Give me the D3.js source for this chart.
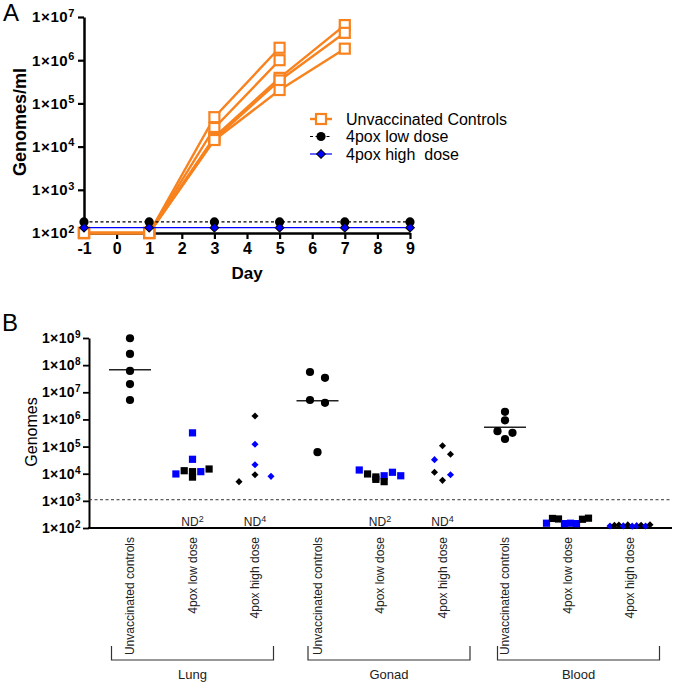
<!DOCTYPE html>
<html><head><meta charset="utf-8">
<script src="https://cdn.jsdelivr.net/npm/d3@7"></script>
<style>
body{margin:0;background:#fff;}
svg{font-family:"Liberation Sans",Arial,Helvetica,sans-serif;}
</style></head>
<body>
<script>
// ---------- Panel A data ----------
const daysA = [-1, 1, 3, 5, 7, 9];
const xTicksA = [-1, 0, 1, 2, 3, 4, 5, 6, 7, 8, 9];
const yTicksA = [1e2, 1e3, 1e4, 1e5, 1e6, 1e7];
// unvaccinated controls: one array per animal (values by day, until death)
const controlAnimals = [
  [100, 100, 4.8e4, 1.94e6],
  [100, 100, 2.7e4, 1.0e6],
  [100, 100, 1.67e4, 3.9e5, 6.5e6],
  [100, 100, 1.5e4, 3.4e5, 4.3e6],
  [100, 100, 1.42e4, 2.04e5, 1.85e6]
];
const lowDoseA  = [180, 180, 180, 180, 180, 180];
const highDoseA = [133, 133, 133, 133, 133, 133];
const legendA = ["Unvaccinated Controls", "4pox low dose", "4pox high  dose"];

// ---------- Panel B data ----------
const tissues = ["Lung", "Gonad", "Blood"];
const groupsB = ["Unvaccinated controls", "4pox low dose", "4pox high dose"];
const yTicksB = [1e2, 1e3, 1e4, 1e5, 1e6, 1e7, 1e8, 1e9];
const limitB = 1.1e3;
// values and experiment set (K = black, B = blue)
const lungControls = [9.8e8, 2.6e8, 6.1e7, 2.0e7, 5.2e6];
const lungLow      = [3.2e5, 3.4e4, 9.8e3, 1.29e4, 1.19e4, 1.19e4, 1.49e4, 7.5e3];
const lungLowSet   = ["B", "B", "B", "K", "K", "B", "K", "K"];
const lungHigh     = [1.34e6, 1.21e5, 2.15e4, 5.1e3, 9.2e3, 8.0e3];
const lungHighSet  = ["K", "B", "B", "K", "K", "B"];
const gonadControls = [5.6e7, 3.4e7, 5.2e6, 4.1e6, 6.2e4];
const gonadLow     = [1.37e4, 9.8e3, 7.6e3, 8.4e3, 1.13e4, 8.4e3, 6.2e3, 5.1e3];
const gonadLowSet  = ["B", "K", "K", "B", "B", "B", "K", "K"];
const gonadHigh    = [1.08e5, 3.3e4, 5.2e4, 1.13e4, 9.2e3, 5.7e3];
const gonadHighSet = ["K", "B", "K", "K", "B", "K"];
const bloodControls = [1.9e6, 9.3e5, 3.7e5, 3.2e5, 1.9e5];
const bloodLow     = [150, 225, 215, 145, 150, 145, 210, 230];
const bloodLowSet  = ["B", "K", "K", "B", "B", "B", "K", "K"];
const bloodHigh    = [118, 125, 128, 120, 130, 117, 122, 126, 119, 132];
const bloodHighSet = ["B", "K", "K", "B", "K", "B", "B", "K", "B", "K"];
const controlMedians = [6.8e7, 4.9e6, 5.2e5];
const ndLabels = [["", "2", "4"], ["", "2", "4"], ["", "", ""]];

// ---------- drawing ----------
const W = 675, H = 683;
const ORANGE = "#f7821e", BLUE = "#0000ff";
const svg = d3.select("body").append("svg").attr("width", W).attr("height", H);

function supLabels(g, size) {
  g.selectAll(".tick text").each(function (d) {
    const t = d3.select(this);
    t.text(null);
    t.append("tspan").text("1×10");
    t.append("tspan").attr("dy", "-0.5em").attr("font-size", size).text(Math.round(Math.log10(d)));
  });
}
// diamond = square turned by 45 degrees
const diamondPath = s => d3.symbol().type(d3.symbolSquare).size(s * s)();

// ===== Panel A =====
const xA = d3.scaleLinear().domain([-1, 9]).range([84, 410]);
const yA = d3.scaleLog().domain([1e2, 1e7]).range([233, 17]);

svg.append("text").attr("x", 3).attr("y", 21).attr("font-size", 24).text("A");

const gyA = svg.append("g").attr("transform", "translate(84,0)")
  .call(d3.axisLeft(yA).tickValues(yTicksA).tickSize(6).tickSizeOuter(0).tickPadding(3).tickFormat(d => d));
gyA.select(".domain").attr("stroke-width", 2.5).attr("stroke", "#000");
gyA.selectAll(".tick line").attr("stroke-width", 2.2);
gyA.selectAll(".tick text").attr("font-size", 15).attr("font-weight", "bold").attr("fill", "#000").attr("letter-spacing", 0.6);
supLabels(gyA, 11);

const gxA = svg.append("g").attr("transform", "translate(0,233)")
  .call(d3.axisBottom(xA).tickValues(xTicksA).tickSize(6).tickSizeOuter(0).tickPadding(4).tickFormat(d3.format("d")));
gxA.select(".domain").attr("stroke-width", 2.5).attr("stroke", "#000");
gxA.selectAll(".tick line").attr("stroke-width", 2.2);
gxA.selectAll(".tick text").attr("font-size", 16).attr("font-weight", "bold").attr("fill", "#000").text(d => d < 0 ? "-" + Math.abs(d) : d);

svg.append("text").attr("transform", "translate(26,122) rotate(-90)").attr("text-anchor", "middle")
  .attr("font-size", 18).attr("font-weight", "bold").text("Genomes/ml");
svg.append("text").attr("x", 247).attr("y", 279).attr("text-anchor", "middle")
  .attr("font-size", 17).attr("font-weight", "bold").text("Day");

const lineA = d3.line().x((d, i) => xA(daysA[i])).y(d => yA(d));

// controls
controlAnimals.forEach(a => {
  svg.append("path").attr("d", lineA(a)).attr("fill", "none").attr("stroke", ORANGE).attr("stroke-width", 2.4);
});
controlAnimals.forEach(a => {
  svg.selectAll(null).data(a).enter().append("rect")
    .attr("x", (d, i) => xA(daysA[i]) - 5).attr("y", d => yA(d) - 5)
    .attr("width", 10).attr("height", 10).attr("fill", "#fff").attr("stroke", ORANGE).attr("stroke-width", 2.2);
});
// low dose
svg.append("path").attr("d", lineA(lowDoseA)).attr("fill", "none").attr("stroke", "#000").attr("stroke-width", 1.2).attr("stroke-dasharray", "3,2.5");
svg.selectAll(null).data(lowDoseA).enter().append("circle")
  .attr("cx", (d, i) => xA(daysA[i])).attr("cy", d => yA(d)).attr("r", 4.6).attr("fill", "#000");
// high dose
svg.append("path").attr("d", lineA(highDoseA)).attr("fill", "none").attr("stroke", BLUE).attr("stroke-width", 1.2);
svg.selectAll(null).data(highDoseA).enter().append("path")
  .attr("transform", (d, i) => `translate(${xA(daysA[i])},${yA(d)}) rotate(45)`).attr("d", diamondPath(6.2))
  .attr("fill", BLUE).attr("stroke", "#000").attr("stroke-width", 1);

// legend
const legY = [119, 136.5, 154];
const lg = svg.append("g").attr("font-size", 16);
legendA.forEach((t, i) => {
  const y = legY[i];
  const ln = lg.append("line").attr("x1", 310).attr("x2", 332).attr("y1", y).attr("y2", y);
  if (i === 0) {
    ln.attr("stroke", ORANGE).attr("stroke-width", 2.4);
    lg.append("rect").attr("x", 316).attr("y", y - 5).attr("width", 10).attr("height", 10).attr("fill", "#fff").attr("stroke", ORANGE).attr("stroke-width", 2.2);
  } else if (i === 1) {
    ln.attr("stroke", "#000").attr("stroke-width", 1.2).attr("stroke-dasharray", "3,2.5");
    lg.append("circle").attr("cx", 321).attr("cy", y).attr("r", 4.6).attr("fill", "#000");
  } else {
    ln.attr("stroke", BLUE).attr("stroke-width", 1.2);
    lg.append("path").attr("transform", `translate(321,${y}) rotate(45)`).attr("d", diamondPath(6.2)).attr("fill", BLUE).attr("stroke", "#000").attr("stroke-width", 1);
  }
  lg.append("text").attr("x", 346).attr("y", y).attr("dy", "0.36em").style("white-space", "pre").text(t);
});

// ===== Panel B =====
const keysB = [];
tissues.forEach(t => groupsB.forEach(g => keysB.push(t + "|" + g)));
const xB = d3.scalePoint().domain(keysB).range([130, 630]);
const yB = d3.scaleLog().domain([1e2, 1e9]).range([528, 338]);

svg.append("text").attr("x", 2).attr("y", 331).attr("font-size", 24).text("B");

const gyB = svg.append("g").attr("transform", "translate(89,0)")
  .call(d3.axisLeft(yB).tickValues(yTicksB).tickSize(6).tickSizeOuter(0).tickPadding(2).tickFormat(d => d));
gyB.select(".domain").attr("stroke-width", 2).attr("stroke", "#000");
gyB.selectAll(".tick line").attr("stroke-width", 1.8);
gyB.selectAll(".tick text").attr("font-size", 14).attr("font-weight", "bold").attr("fill", "#000").attr("letter-spacing", 0.4);
supLabels(gyB, 10);

svg.append("text").attr("transform", "translate(37,432) rotate(-90)").attr("text-anchor", "middle")
  .attr("font-size", 16).text("Genomes");

// detection limit
svg.append("line").attr("x1", 89).attr("x2", 672).attr("y1", yB(limitB)).attr("y2", yB(limitB))
  .attr("stroke", "#333").attr("stroke-width", 1).attr("stroke-dasharray", "3,2.5");

// x axis line
svg.append("line").attr("x1", 88).attr("x2", 672).attr("y1", 528).attr("y2", 528).attr("stroke", "#000").attr("stroke-width", 2);

// point placement (column scatter: neighbours at similar height are spread sideways)
function place(vals, sets, step, thr, maxSpan) {
  const pts = vals.map((v, i) => ({ v, s: sets ? sets[i] : "K", i, y: yB(v), dx: 0 }));
  const sorted = pts.slice().sort((a, b) => a.y - b.y);
  const rows = []; let cur = null;
  sorted.forEach(p => {
    if (cur && p.y - cur[0].y < thr) cur.push(p); else { cur = [p]; rows.push(cur); }
  });
  rows.forEach(r => {
    r.sort((a, b) => a.i - b.i);
    const n = r.length, s = n > 1 ? Math.min(step, maxSpan / (n - 1)) : 0;
    r.forEach((p, k) => p.dx = (k - (n - 1) / 2) * s);
  });
  return pts;
}
const colorOf = s => s === "B" ? BLUE : "#000";

const groupsData = [
  { key: "Lung|Unvaccinated controls", vals: lungControls, sets: null, type: "circle", med: controlMedians[0] },
  { key: "Lung|4pox low dose", vals: lungLow, sets: lungLowSet, type: "square" },
  { key: "Lung|4pox high dose", vals: lungHigh, sets: lungHighSet, type: "diamond" },
  { key: "Gonad|Unvaccinated controls", vals: gonadControls, sets: null, type: "circle", med: controlMedians[1] },
  { key: "Gonad|4pox low dose", vals: gonadLow, sets: gonadLowSet, type: "square" },
  { key: "Gonad|4pox high dose", vals: gonadHigh, sets: gonadHighSet, type: "diamond" },
  { key: "Blood|Unvaccinated controls", vals: bloodControls, sets: null, type: "circle", med: controlMedians[2] },
  { key: "Blood|4pox low dose", vals: bloodLow, sets: bloodLowSet, type: "square" },
  { key: "Blood|4pox high dose", vals: bloodHigh, sets: bloodHighSet, type: "diamond" }
];
groupsData.forEach(g => {
  const cx = xB(g.key);
  if (g.med !== undefined) {
    svg.append("line").attr("x1", cx - 21).attr("x2", cx + 21).attr("y1", yB(g.med)).attr("y2", yB(g.med))
      .attr("stroke", "#222").attr("stroke-width", 1.5);
  }
  let pts;
  if (g.type === "circle") {
    pts = place(g.vals, g.sets, 15, 7.5, 42);
    svg.selectAll(null).data(pts).enter().append("circle")
      .attr("cx", d => cx + d.dx).attr("cy", d => d.y).attr("r", 4.1).attr("fill", d => colorOf(d.s));
  } else if (g.type === "square") {
    pts = place(g.vals, g.sets, 8.3, 7.5, 42);
    svg.selectAll(null).data(pts).enter().append("rect")
      .attr("x", d => cx + d.dx - 3.6).attr("y", d => d.y - 3.6).attr("width", 7.2).attr("height", 7.2)
      .attr("fill", d => colorOf(d.s));
  } else {
    pts = place(g.vals, g.sets, 16, 7.5, 40);
    svg.selectAll(null).data(pts).enter().append("path")
      .attr("transform", d => `translate(${cx + d.dx},${d.y}) rotate(45)`).attr("d", diamondPath(5)).attr("fill", d => colorOf(d.s));
  }
});

// ND labels
tissues.forEach((t, ti) => groupsB.forEach((g, gi) => {
  const sup = ndLabels[ti][gi];
  if (!sup) return;
  const tx = svg.append("text").attr("x", xB(t + "|" + g)).attr("y", 526).attr("text-anchor", "middle")
    .attr("font-size", 12).attr("fill", "#222");
  tx.append("tspan").text("ND");
  tx.append("tspan").attr("dy", "-0.45em").attr("font-size", 9).text(sup);
}));

// category labels
keysB.forEach(k => {
  svg.append("text").attr("transform", `translate(${xB(k)},537) rotate(-90)`).attr("text-anchor", "end")
    .attr("dy", "0.35em").attr("font-size", 12).attr("fill", "#222").text(k.split("|")[1]);
});

// tissue brackets
const bracketShift = [0, 9, 11];
tissues.forEach((t, ti) => {
  const x0 = xB(t + "|" + groupsB[0]), x2 = xB(t + "|" + groupsB[2]);
  const c = (x0 + x2) / 2 + bracketShift[ti], half = 81;
  svg.append("path").attr("d", `M${c - half},646V660H${c + half}V646`).attr("fill", "none")
    .attr("stroke", "#333").attr("stroke-width", 1.2);
  svg.append("text").attr("x", c).attr("y", 679).attr("text-anchor", "middle").attr("font-size", 13).attr("fill", "#222").text(t);
});
</script>
</body></html>
